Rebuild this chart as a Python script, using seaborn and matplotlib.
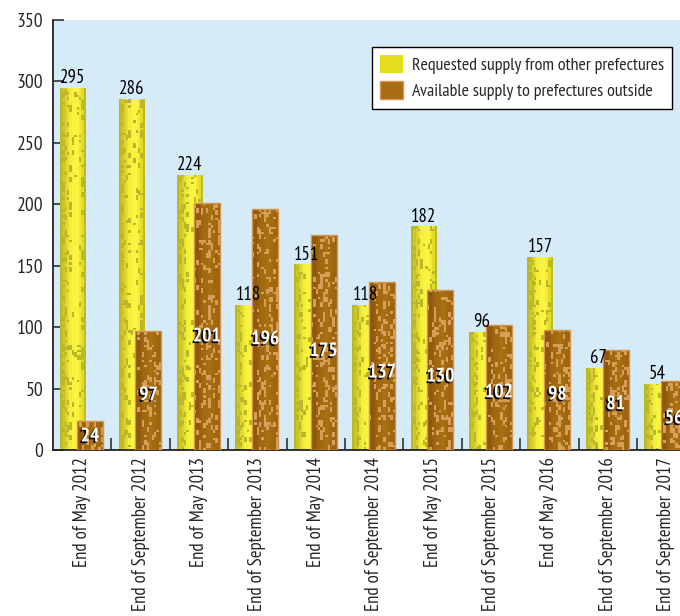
import numpy as np
import pandas as pd
import matplotlib
matplotlib.use("Agg")
import matplotlib.pyplot as plt
import matplotlib.patheffects as pe
from matplotlib.patches import Patch
from matplotlib import font_manager
import seaborn as sns

periods = [
    "End of May 2012", "End of September 2012", "End of May 2013",
    "End of September 2013", "End of May 2014", "End of September 2014",
    "End of May 2015", "End of September 2015", "End of May 2016",
    "End of September 2016", "End of September 2017",
]
requested = [295, 286, 224, 118, 151, 118, 182, 96, 157, 67, 54]
available = [24, 97, 201, 196, 175, 137, 130, 102, 98, 81, 56]
series_names = ["Requested supply from other prefectures",
                "Available supply to prefectures outside"]
y_ticks = [0, 50, 100, 150, 200, 250, 300, 350]

sns.set_theme(style="white")
installed = {f.name for f in font_manager.fontManager.ttflist}
narrow_candidates = ["PT Sans Narrow", "Roboto Condensed", "Open Sans Condensed",
                     "Archivo Narrow", "Fira Sans Condensed", "Liberation Sans Narrow",
                     "Roboto"]
narrow = next((f for f in narrow_candidates if f in installed), "DejaVu Sans")
plt.rcParams["font.family"] = [narrow, "DejaVu Sans"]

df = pd.DataFrame({
    "period": periods * 2,
    "value": requested + available,
    "series": [series_names[0]] * len(periods) + [series_names[1]] * len(periods),
})

W, H = 680, 616
fig = plt.figure(figsize=(W / 100, H / 100), dpi=100)
ax = fig.add_axes([53 / W, 1 - 450 / H, 642.4 / W, 430 / H])
ax.set_facecolor("#d5ebf8")

sns.barplot(data=df, x="period", y="value", hue="series", order=periods,
            hue_order=series_names, palette=["#e8e020", "#a86c14"],
            width=0.8, dodge=True, legend=False, ax=ax, zorder=2)


def gradient(stops, n):
    t = np.linspace(0, 1, n)
    pos = [s[0] for s in stops]
    cols = np.array([s[1] for s in stops])
    return np.stack([np.interp(t, pos, cols[:, c]) for c in range(3)], axis=1)


def hash01(i, j, k):
    """Deterministic integer hash of cell coordinates mapped to [0, 1)."""
    h = (i.astype(np.uint64) * np.uint64(73856093)) ^ \
        (j.astype(np.uint64) * np.uint64(19349663)) ^ \
        np.uint64(k * 83492791 + 12345)
    h = h & np.uint64(0xFFFFFFFF)
    h = (h ^ (h >> np.uint64(15))) * np.uint64(2246822519) & np.uint64(0xFFFFFFFF)
    h = (h ^ (h >> np.uint64(13))) * np.uint64(3266489917) & np.uint64(0xFFFFFFFF)
    h = h ^ (h >> np.uint64(16))
    return h.astype(np.float64) / 4294967296.0


def grain(rows, cols, k, density):
    i = np.arange(rows)[:, None] + np.zeros((1, cols), dtype=int)
    j = np.arange(cols)[None, :] + np.zeros((rows, 1), dtype=int)
    m = hash01(i, j, k) < density[None, :]
    stretch = hash01(i, j, k + 500) < 0.5
    return m | (np.roll(m, 1, axis=0) & stretch)


yellow_stops = [(0.0, (0.74, 0.72, 0.14)), (0.2, (0.85, 0.83, 0.18)),
                (0.42, (0.97, 0.94, 0.23)), (0.68, (0.99, 0.96, 0.27)),
                (0.88, (0.92, 0.89, 0.17)), (1.0, (0.76, 0.74, 0.13))]
brown_stops = [(0.0, (0.53, 0.32, 0.05)), (0.3, (0.62, 0.40, 0.06)),
               (0.6, (0.66, 0.44, 0.07)), (1.0, (0.61, 0.39, 0.06))]
yellow_speck = np.array([0.74, 0.72, 0.16])
brown_speck = np.array([0.84, 0.62, 0.34])
cols = 11
yellow_density = np.interp(np.linspace(0, 1, cols), [0, 0.3, 0.5, 0.75, 1],
                           [0.25, 0.2, 0.03, 0.08, 0.25])
brown_density = np.interp(np.linspace(0, 1, cols), [0, 0.25, 0.5, 1],
                          [0.04, 0.13, 0.18, 0.16])

px_per_unit = 430 / 350
bar_w = 0.445
offsets = [-0.155, 0.135]

for s, cont in enumerate(ax.containers):
    for k, bar in enumerate(cont.patches):
        center = k + offsets[s]
        bar.set_x(center - bar_w / 2)
        bar.set_width(bar_w)
        x0 = bar.get_x()
        h = bar.get_height()
        rows = max(2, int(round(h * px_per_unit / 2.5)))
        stops = yellow_stops if s == 0 else brown_stops
        base = np.repeat(gradient(stops, cols)[None, :, :], rows, axis=0)
        mask = grain(rows, cols, k + 37 * s, yellow_density if s == 0 else brown_density)
        speck = yellow_speck if s == 0 else brown_speck
        img = np.where(mask[:, :, None], speck, base)
        im = ax.imshow(img, extent=(x0, x0 + bar_w, 0, h), origin="upper",
                       aspect="auto", interpolation="nearest", zorder=2.1 + s)
        im.set_clip_path(bar)
        bar.set_facecolor("none")
        bar.set_zorder(2.2 + s)
        if s == 1:
            bar.set_edgecolor("#d8944e")
            bar.set_linewidth(1.0)
        else:
            bar.set_edgecolor("none")

ax.set_xlim(-0.5, len(periods) - 0.5)
ax.set_ylim(0, 350)
ax.set_aspect("auto")

# value labels
for k, v in enumerate(requested):
    ax.text(k + offsets[0], v + 0.5, str(v), ha="center", va="bottom",
            fontsize=13.5, color="black", zorder=5)
for k, v in enumerate(available):
    ax.text(k + offsets[1], v * 0.46, str(v), ha="center", va="center",
            fontsize=14, fontweight="bold", color="white", zorder=5,
            path_effects=[pe.withSimplePatchShadow(offset=(-1.2, -1.2),
                                                   shadow_rgbFace="black",
                                                   alpha=1.0)])

ax.set_yticks(y_ticks)
ax.set_yticklabels([str(t) for t in y_ticks], fontsize=14)
ax.set_xticks(range(len(periods)))
ax.set_xticklabels(periods, rotation=90, fontsize=13.5, va="top", ha="center")
ax.set_xticks(np.arange(0.5, len(periods) - 0.5, 1.0), minor=True)
ax.tick_params(axis="x", which="major", length=0, pad=5)
ax.tick_params(axis="x", which="minor", direction="in", length=9,
               width=1.2, color="#333333", bottom=True)
ax.tick_params(axis="y", direction="in", length=8, width=1.2,
               color="#333333", left=True, pad=7)
ax.set_xlabel("")
ax.set_ylabel("")

for side in ("top", "right"):
    ax.spines[side].set_visible(False)
for side in ("left", "bottom"):
    ax.spines[side].set_color("#222222")
    ax.spines[side].set_linewidth(1.3)

handles = [Patch(facecolor="#e4dc1c", edgecolor="none"),
           Patch(facecolor="#a86c14", edgecolor="#d8944e")]
leg = fig.legend(handles, series_names, loc="upper right",
                 bbox_to_anchor=(672 / W, 1 - 47 / H),
                 bbox_transform=fig.transFigure, fontsize=13,
                 frameon=True, fancybox=False, framealpha=1.0,
                 edgecolor="black", handlelength=1.25, handleheight=1.15,
                 handletextpad=0.5, borderpad=0.45, labelspacing=0.4,
                 borderaxespad=0)
leg.get_frame().set_linewidth(1.0)

fig.savefig("out.png", dpi=100)
